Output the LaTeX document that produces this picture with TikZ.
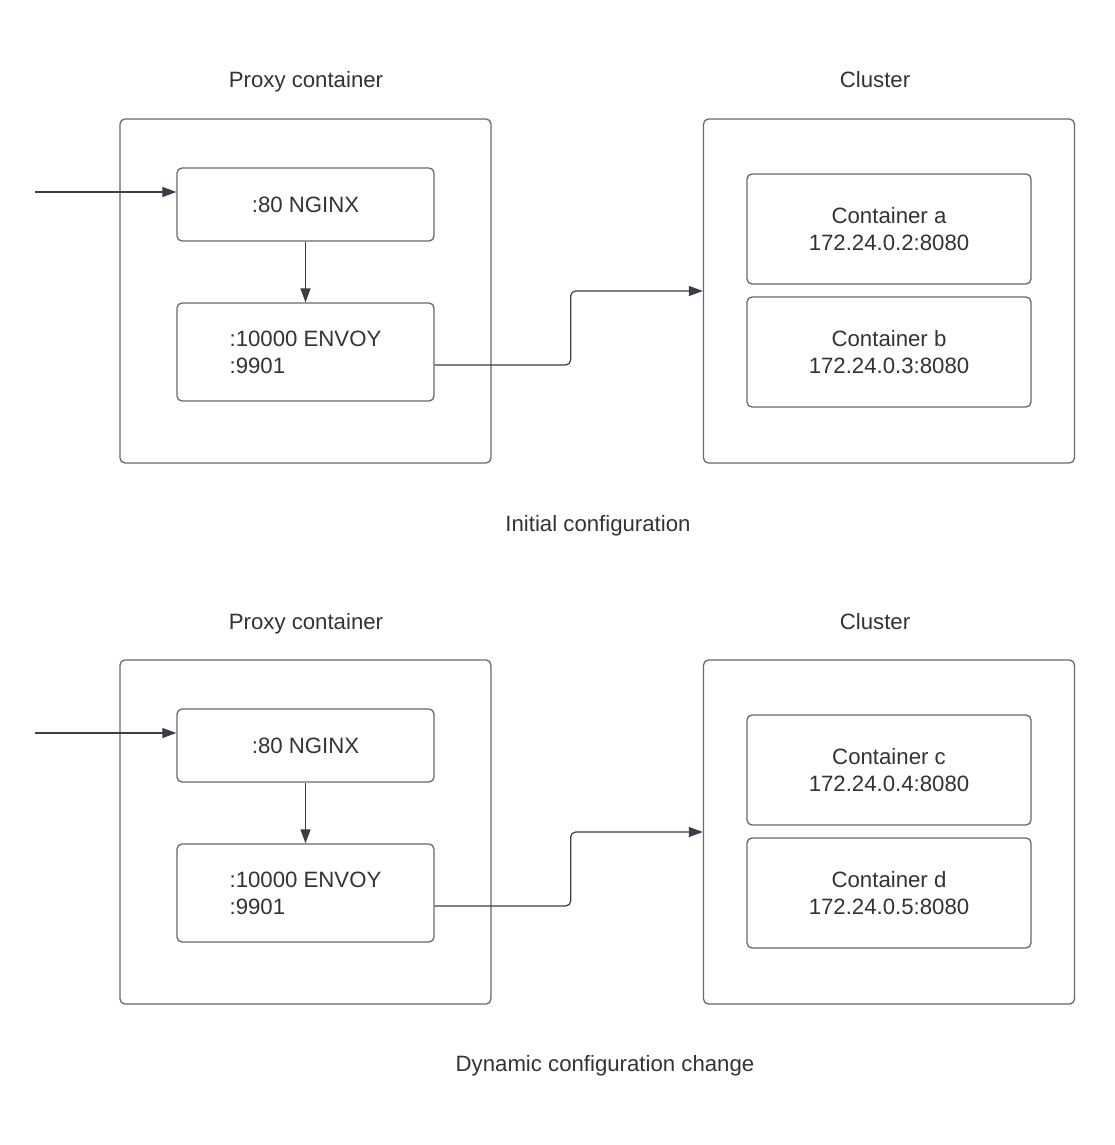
\documentclass[tikz,border=0pt]{standalone}
\usepackage{fontspec}
\setmainfont{Liberation Sans}
\usetikzlibrary{arrows.meta,calc}
\definecolor{boxline}{RGB}{105,105,105}
\definecolor{arrline}{RGB}{58,63,71}
\definecolor{txt}{RGB}{51,51,51}
\tikzset{
  panelbox/.style={draw=boxline, line width=1.3pt, rounded corners=5pt, minimum width=371pt, minimum height=344pt, inner sep=0pt},
  innerbox/.style={draw=boxline, line width=1.3pt, rounded corners=5pt, minimum width=257pt, text=txt, font=\fontsize{22.2}{27}\selectfont, align=center, inner sep=0pt},
  clbox/.style={draw=boxline, line width=1.3pt, rounded corners=5pt, minimum width=284pt, minimum height=110pt, text=txt, font=\fontsize{22.2}{27}\selectfont, align=center, inner sep=0pt},
  title/.style={text=txt, font=\fontsize{22.2}{27}\selectfont, inner sep=0pt, text height=16pt, text depth=0pt},
  arr/.style={draw=arrline, line width=1.2pt, -{Triangle[length=14pt,width=10pt]}},
}
\begin{document}
\begin{tikzpicture}[x=1pt,y=-1pt]
\useasboundingbox[fill=white] (0,0) rectangle (1115,1145);
% ---------- top panel ----------
\node[title] (t1p) at (306,80) {Proxy container};
\node[title] (t1c) at (875,80) {Cluster};
\node[panelbox] (proxy1) at (305.5,291) {};
\node[panelbox] (cluster1) at (889,291) {};
\node[innerbox, minimum height=73pt] (nginx1) at (305.5,204.5) {:80 NGINX};
\node[innerbox, minimum height=98pt, align=left] (envoy1) at (305.5,352) {:10000 ENVOY\\:9901};
\node[clbox] (ca) at (889,229) {Container a\\172.24.0.2:8080};
\node[clbox] (cb) at (889,352) {Container b\\172.24.0.3:8080};
\node[title] (cap1) at (598,523) {Initial configuration};
\coordinate (in1) at (35,192);
\draw[arr] (in1) -- (in1 -| nginx1.west);
\draw[arr] (nginx1) -- (envoy1);
\draw[arr, rounded corners=5pt] ([yshift=-13pt]envoy1.east) -- ++(136,0) |- (cluster1.west);
% ---------- bottom panel ----------
\node[title] (t2p) at (306,621) {Proxy container};
\node[title] (t2c) at (875,621) {Cluster};
\node[panelbox] (proxy2) at (305.5,832) {};
\node[panelbox] (cluster2) at (889,832) {};
\node[innerbox, minimum height=73pt] (nginx2) at (305.5,745.5) {:80 NGINX};
\node[innerbox, minimum height=98pt, align=left] (envoy2) at (305.5,893) {:10000 ENVOY\\:9901};
\node[clbox] (cc) at (889,770) {Container c\\172.24.0.4:8080};
\node[clbox] (cd) at (889,893) {Container d\\172.24.0.5:8080};
\node[title] (cap2) at (605,1063) {Dynamic configuration change};
\coordinate (in2) at (35,733);
\draw[arr] (in2) -- (in2 -| nginx2.west);
\draw[arr] (nginx2) -- (envoy2);
\draw[arr, rounded corners=5pt] ([yshift=-13pt]envoy2.east) -- ++(136,0) |- (cluster2.west);
\end{tikzpicture}
\end{document}
